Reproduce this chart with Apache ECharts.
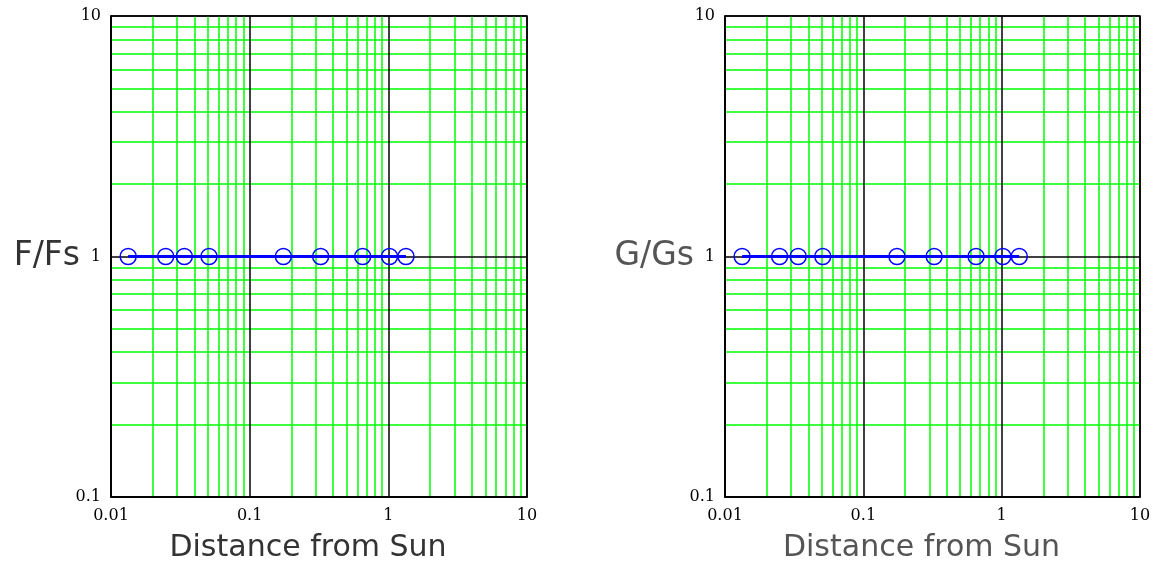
<!DOCTYPE html>
<html>
<head>
<meta charset="utf-8">
<script src="https://cdn.jsdelivr.net/npm/echarts@6/dist/echarts.min.js"></script>
<style>
  html, body { margin: 0; padding: 0; background: #fff; }
  #main { width: 1157px; height: 561px; }
</style>
</head>
<body>
<div id="main"></div>
<script>
// distances (same points in both panels)
var distance = [0.0133, 0.0248, 0.0338, 0.0509, 0.175, 0.325, 0.653, 1.02, 1.34];
var ratioF = [1, 1, 1, 1, 1, 1, 1, 1, 1];
var ratioG = [1, 1, 1, 1, 1, 1, 1, 1, 1];

var xDecades = [0.01, 0.1, 1];   // x axis 0.01 .. 10
var yDecades = [0.1, 1];         // y axis 0.1 .. 10
var minorSteps = [2, 3, 4, 5, 6, 7, 8, 9];

var xMinor = [];
xDecades.forEach(function (d) { minorSteps.forEach(function (k) { xMinor.push(d * k); }); });
var yMinor = [];
yDecades.forEach(function (d) { minorSteps.forEach(function (k) { yMinor.push(d * k); }); });

var myChart = echarts.init(document.getElementById('main'));

function fmt(v) {
    return String(parseFloat(Number(v).toPrecision(3)));
}

function xAxisOpt(idx, color) {
    return {
        type: 'log',
        logBase: 10,
        gridIndex: idx,
        min: 0.01,
        max: 10,
        splitNumber: 3,
        z: 6,
        name: 'Distance from Sun',
        nameLocation: 'middle',
        nameMoveOverlap: false,
        nameGap: 36,
        nameTextStyle: {
            fontFamily: 'DejaVu Sans',
            fontSize: 30,
            color: color,
            padding: [0, 22, 0, 0]
        },
        axisLine: { show: true, lineStyle: { color: '#000', width: 1.5 } },
        axisTick: { show: false },
        axisLabel: {
            margin: 11,
            fontFamily: 'DejaVu Serif',
            fontSize: 16,
            color: '#000',
            formatter: fmt
        },
        splitLine: { show: true, lineStyle: { color: '#000', width: 1.5 } }
    };
}

function yAxisOpt(idx, label, color) {
    return {
        type: 'log',
        logBase: 10,
        gridIndex: idx,
        min: 0.1,
        max: 10,
        splitNumber: 2,
        z: 6,
        name: label,
        nameLocation: 'middle',
        nameMoveOverlap: false,
        nameRotate: 0,
        nameGap: 31,
        nameTextStyle: {
            fontFamily: 'DejaVu Sans',
            fontSize: 33,
            color: color,
            align: 'right',
            verticalAlign: 'middle'
        },
        axisLine: { show: true, lineStyle: { color: '#000', width: 1.5 } },
        axisTick: { show: false },
        axisLabel: {
            margin: 10,
            fontFamily: 'DejaVu Serif',
            fontSize: 16,
            color: '#000',
            formatter: fmt
        },
        splitLine: { show: true, lineStyle: { color: '#000', width: 1.5 } }
    };
}

function minorLines() {
    return {
        silent: true,
        symbol: 'none',
        animation: false,
        z: 1,
        label: { show: false },
        lineStyle: { color: '#00ff00', width: 1.5, type: 'solid' },
        data: xMinor.map(function (v) { return { xAxis: v }; })
            .concat(yMinor.map(function (v) { return { yAxis: v }; }))
    };
}

function pointSeries(idx, yVals) {
    return {
        type: 'line',
        xAxisIndex: idx,
        yAxisIndex: idx,
        z: 8,
        data: distance.map(function (d, i) { return [d, yVals[i]]; }),
        symbol: 'circle',
        symbolSize: 16,
        showSymbol: true,
        lineStyle: { color: '#0000ff', width: 3 },
        itemStyle: { color: 'rgba(0,0,0,0)', borderColor: '#0000ff', borderWidth: 1.5 },
        markLine: minorLines()
    };
}

var option = {
    animation: false,
    backgroundColor: '#fff',
    grid: [
        { left: 111, top: 16, width: 416, height: 481, outerBoundsMode: 'none', containLabel: false,
          show: true, borderColor: '#000', borderWidth: 1.5 },
        { left: 725, top: 16, width: 415, height: 481, outerBoundsMode: 'none', containLabel: false,
          show: true, borderColor: '#000', borderWidth: 1.5 }
    ],
    xAxis: [xAxisOpt(0, '#333'), xAxisOpt(1, '#555')],
    yAxis: [yAxisOpt(0, 'F/Fs', '#333'), yAxisOpt(1, 'G/Gs', '#555')],
    series: [pointSeries(0, ratioF), pointSeries(1, ratioG)]
};

myChart.setOption(option);
</script>
</body>
</html>
